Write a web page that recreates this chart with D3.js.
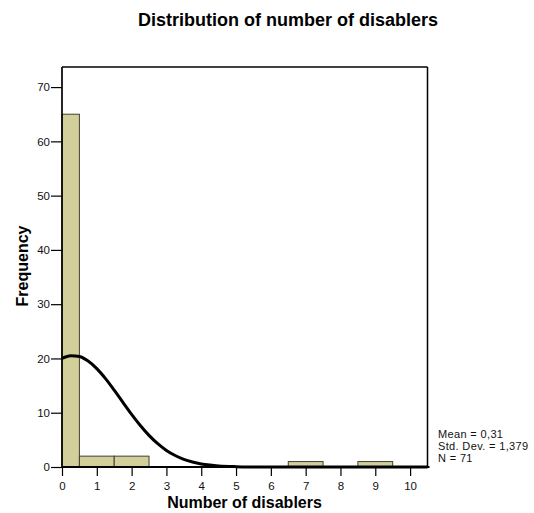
<!DOCTYPE html>
<html>
<head>
<meta charset="utf-8">
<script src="https://cdn.jsdelivr.net/npm/d3@7"></script>
<style>
  html, body { margin: 0; padding: 0; background: #fff; }
  svg { display: block; font-family: "Liberation Sans", Arial, sans-serif; }
</style>
</head>
<body>
<svg id="chart" width="534" height="513"></svg>
<script>
// ---- data ----
const chartTitle = "Distribution of number of disablers";
const xLabel = "Number of disablers";
const yLabel = "Frequency";
const binCenters = [0, 1, 2, 3, 4, 5, 6, 7, 8, 9, 10];
const binCounts  = [65, 2, 2, 0, 0, 0, 0, 1, 0, 1, 0];
const xTicks = [0, 1, 2, 3, 4, 5, 6, 7, 8, 9, 10];
const yTicks = [0, 10, 20, 30, 40, 50, 60, 70];
const curveX = [0, 0.25, 0.5, 0.75, 1, 1.25, 1.5, 1.75, 2, 2.25, 2.5, 2.75, 3, 3.25, 3.5, 3.75, 4, 4.25, 4.5, 5, 5.5, 6, 7, 8, 9, 10, 10.5];
const curveY = [20.03, 20.52, 20.35, 19.52, 18.12, 16.28, 14.15, 11.91, 9.69, 7.64, 5.82, 4.29, 3.06, 2.12, 1.41, 0.92, 0.57, 0.35, 0.20, 0.063, 0.017, 0.003, 0, 0, 0, 0, 0];
const statsLines = ["Mean = 0,31", "Std. Dev. = 1,379", "N = 71"];

// ---- layout ----
const svg = d3.select("#chart");
const pLeft = 62, pRight = 427.5, pTop = 67, pBottom = 467;
const x = d3.scaleLinear().domain([0, 10.5]).range([pLeft, pRight]);
const y = d3.scaleLinear().domain([0, 73.7]).range([pBottom, pTop]);

// bars
const bars = binCenters.map((c, i) => ({ c, n: binCounts[i] })).filter(d => d.n > 0);
svg.append("g").selectAll("rect").data(bars).join("rect")
  .attr("x", d => x(Math.max(0, d.c - 0.5)))
  .attr("width", d => x(Math.min(10.5, d.c + 0.5)) - x(Math.max(0, d.c - 0.5)))
  .attr("y", d => y(d.n))
  .attr("height", d => y(0) - y(d.n))
  .attr("fill", "#d3cf9a")
  .attr("stroke", "#3f3f35")
  .attr("stroke-width", 1);

// normal curve
const pts = curveX.map((v, i) => [v, curveY[i]]);
svg.append("path")
  .datum(pts)
  .attr("fill", "none")
  .attr("stroke", "#000")
  .attr("stroke-width", 3)
  .attr("stroke-linejoin", "round")
  .attr("d", d3.line().x(d => x(d[0])).y(d => y(d[1])).curve(d3.curveMonotoneX));

// frame (top and right)
svg.append("line").attr("x1", pLeft).attr("x2", pRight).attr("y1", pTop).attr("y2", pTop)
  .attr("stroke", "#000").attr("stroke-width", 1.5);
svg.append("line").attr("x1", pRight).attr("x2", pRight).attr("y1", pTop).attr("y2", pBottom)
  .attr("stroke", "#000").attr("stroke-width", 1.5);

// y axis
const yAxis = svg.append("g").attr("transform", `translate(${pLeft},0)`)
  .call(d3.axisLeft(y).tickValues(yTicks).tickSize(11).tickPadding(1).tickSizeOuter(0));
yAxis.select(".domain").attr("stroke-width", 1.7).attr("d", `M0,${pTop}V${pBottom}`);
yAxis.selectAll(".tick line").attr("stroke-width", 1.2);
yAxis.selectAll("text").attr("font-size", 11.5).attr("fill", "#111")
  .attr("font-family", '"Liberation Sans", Arial, sans-serif');

// x axis
const xAxis = svg.append("g").attr("transform", `translate(0,${pBottom})`)
  .call(d3.axisBottom(x).tickValues(xTicks).tickSize(9).tickPadding(6).tickSizeOuter(0));
xAxis.select(".domain").attr("stroke-width", 2.2).attr("d", `M${pLeft},0H${pRight + 2}`);
xAxis.selectAll(".tick line").attr("stroke-width", 1.2);
xAxis.selectAll("text").attr("font-size", 11.5).attr("fill", "#111")
  .attr("font-family", '"Liberation Sans", Arial, sans-serif');

// titles
svg.append("text").attr("x", 288).attr("y", 26).attr("text-anchor", "middle")
  .attr("font-size", 18).attr("font-weight", "bold").text(chartTitle);
svg.append("text").attr("x", 244.5).attr("y", 508).attr("text-anchor", "middle")
  .attr("font-size", 16).attr("font-weight", "bold").text(xLabel);
svg.append("text").attr("transform", "translate(28,266) rotate(-90)").attr("text-anchor", "middle")
  .attr("font-size", 16).attr("font-weight", "bold").text(yLabel);

// stats block
svg.append("g").selectAll("text").data(statsLines).join("text")
  .attr("x", 438).attr("y", (d, i) => 437.6 + i * 12.3)
  .attr("font-size", 11).attr("letter-spacing", 0.35).attr("fill", "#111")
  .text(d => d);
</script>
</body>
</html>
